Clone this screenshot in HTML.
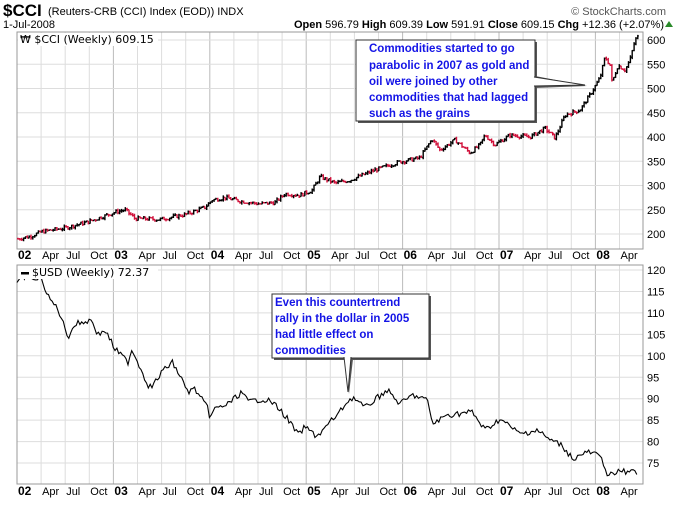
<!DOCTYPE html>
<html><head><meta charset="utf-8"><style>
body{margin:0;background:#fff;}
svg text{font-family:"Liberation Sans",sans-serif;}
</style></head><body>
<svg id="s" width="680" height="500" xmlns="http://www.w3.org/2000/svg">
<rect width="680" height="500" fill="#fff"/>
<g id="grid"></g>
<rect x="17" y="32" width="626" height="217" fill="none" stroke="#999" stroke-width="1"/>
<rect x="17" y="265" width="626" height="219" fill="none" stroke="#999" stroke-width="1"/>
<g id="cci"></g>
<path id="usd" fill="none" stroke="#000" stroke-width="1.1"/>
<g id="labels" font-size="11" fill="#000"></g>
<text x="3" y="16" font-size="17" font-weight="bold" style="font-family:'Liberation Sans Narrow','Liberation Sans',sans-serif">$CCI</text>
<text x="48" y="15" font-size="11">(Reuters-CRB (CCI) Index (EOD))  INDX</text>
<text x="3" y="28" font-size="11">1-Jul-2008</text>
<text x="666" y="15" font-size="11" fill="#555" text-anchor="end">© StockCharts.com</text>
<text x="664" y="28" font-size="11" text-anchor="end"><tspan font-weight="bold">Open</tspan> 596.79 <tspan font-weight="bold">High</tspan> 609.39 <tspan font-weight="bold">Low</tspan> 591.91 <tspan font-weight="bold">Close</tspan> 609.15 <tspan font-weight="bold">Chg</tspan> +12.36 (+2.07%)</text>
<path d="M665 27 L669 21 L673 27Z" fill="#2a8a2a"/>
<rect x="18" y="33" width="140" height="13" fill="#fff"/>
<text x="20" y="43" font-size="11" style="font-family:'DejaVu Sans',sans-serif" font-size="11">₩ $CCI (Weekly) 609.15</text>
<rect x="18" y="266" width="140" height="13" fill="#fff"/>
<rect x="21" y="272" width="8" height="2.5" fill="#000"/>
<text x="32" y="276" style="font-family:'DejaVu Sans',sans-serif" font-size="11">$USD (Weekly) 72.37</text>
<!-- callout 1 -->
<path d="M535 76 L587 86 L535 88Z" fill="#555"/>
<rect x="358" y="42" width="179" height="81" fill="#555"/>
<rect x="356" y="40" width="179" height="81" fill="#fff" stroke="#333"/>
<path d="M534 77 L585 85 L534 86" fill="#fff" stroke="#333"/>
<g font-size="11.5" font-weight="bold" fill="#1414e6">
<text x="369" y="52">Commodities started to go</text>
<text x="369" y="69">parabolic in 2007 as gold and</text>
<text x="369" y="85">oil were joined by other</text>
<text x="369" y="101">commodities that had lagged</text>
<text x="369" y="117">such as the grains</text>
</g>
<!-- callout 2 -->
<rect x="274" y="296" width="157" height="64" fill="#555"/>
<path d="M345 359 L349 394 L353 359Z" fill="#555"/>
<rect x="272" y="294" width="157" height="64" fill="#fff" stroke="#333"/>
<path d="M344 357 L348 392 L351 357" fill="#fff" stroke="#333"/>
<g font-size="11.5" font-weight="bold" fill="#1414e6">
<text x="275" y="306">Even this countertrend</text>
<text x="275" y="322">rally in the dollar in 2005</text>
<text x="275" y="338">had little effect on</text>
<text x="275" y="354">commodities</text>
</g>
</svg>
<script>
var NS="http://www.w3.org/2000/svg";
function el(p,t,a,txt){var e=document.createElementNS(NS,t);for(var k in a)e.setAttribute(k,a[k]);if(txt!==undefined)e.textContent=txt;p.appendChild(e);return e;}
var g=document.getElementById('grid'),L=document.getElementById('labels');
var xl=["02","Apr","Jul","Oct","03","Apr","Jul","Oct","04","Apr","Jul","Oct","05","Apr","Jul","Oct","06","Apr","Jul","Oct","07","Apr","Jul","Oct","08","Apr","Jul"];
for(var i=0;i<27;i++){var x=17+i*24.1;var yr=i%4==0;
 if(i>0&&x<643){el(g,'line',{x1:x,y1:32,x2:x,y2:249,stroke:yr?'#bbb':'#ddd'});el(g,'line',{x1:x,y1:265,x2:x,y2:484,stroke:yr?'#bbb':'#ddd'});}
 if(i<26){var a={x:x+1,y:259,'font-size':yr?12:11};if(yr)a['font-weight']='bold';el(L,'text',a,xl[i]);a.y=495;el(L,'text',a,xl[i]);}}
function yc(v){return 40+(600-v)*0.485;}
function yu(v){return 270+(120-v)*4.29;}
for(var v=200;v<=600;v+=50){el(g,'line',{x1:17,y1:yc(v),x2:643,y2:yc(v),stroke:'#ddd'});el(L,'text',{x:647,y:yc(v)+4},v);}
for(var v=75;v<=120;v+=5){el(g,'line',{x1:17,y1:yu(v),x2:643,y2:yu(v),stroke:'#ddd'});el(L,'text',{x:647,y:yu(v)+4},v);}
var seed=7;function rnd(){seed=(seed*9301+49297)%233280;return seed/233280;}
function interp(k,x){for(var i=0;i<k.length-1;i++){if(x<=k[i+1][0]){var t=(x-k[i][0])/(k[i+1][0]-k[i][0]);return k[i][1]+t*(k[i+1][1]-k[i][1]);}}return k[k.length-1][1];}
var ck=[[18,190],[30,195],[42,205],[64,212],[88,225],[115,245],[125,250],[135,232],[160,230],[185,240],[205,255],[212,270],[225,275],[240,268],[260,262],[275,265],[285,283],[300,280],[312,290],[320,318],[335,305],[350,311],[375,332],[400,349],[420,357],[432,396],[440,373],[455,394],[470,367],[480,384],[485,404],[495,384],[510,404],[530,400],[545,418],[555,398],[565,445],[580,456],[590,487],[600,522],[605,565],[610,548],[612,512],[618,548],[625,538],[630,559],[635,600],[638,607]];
var C=document.getElementById('cci'),prev=190;
for(var x=18;x<=638;x+=1.85){var c=interp(ck,x)+(rnd()-0.5)*8;var o=prev;var hi=Math.max(o,c)+rnd()*4,lo=Math.min(o,c)-rnd()*4;
 var col=c>=o?'#000':'#d0103a';
 el(C,'path',{d:'M'+x.toFixed(1)+' '+yc(hi).toFixed(1)+'V'+yc(lo).toFixed(1)+'M'+(x-1).toFixed(1)+' '+yc(o).toFixed(1)+'h1M'+x.toFixed(1)+' '+yc(c).toFixed(1)+'h1',stroke:col,'stroke-width':1.4,fill:'none'});prev=c;}
var uk=[[17,285],[22,277],[32,277],[35,280],[42,279],[48,297],[58,309],[68,337],[75,324],[92,320],[98,335],[105,330],[115,349],[128,362],[132,349],[148,385],[152,387],[162,372],[172,362],[178,372],[188,392],[195,389],[208,409],[210,417],[215,409],[228,404],[242,392],[248,402],[262,399],[272,402],[282,412],[292,425],[298,435],[305,427],[315,435],[320,434],[330,422],[340,412],[345,404],[353,397],[365,408],[372,402],[387,390],[400,404],[413,395],[427,400],[433,424],[447,415],[472,412],[485,430],[500,419],[520,434],[537,430],[550,440],[560,444],[565,449],[573,459],[587,452],[598,455],[603,462],[608,475],[613,475],[622,470],[627,474],[633,467],[635,473],[637,474]];
var d='';for(var x=17;x<=637;x+=1.85){var y=interp(uk,x)+(rnd()-0.5)*6;d+=(d?'L':'M')+x.toFixed(1)+' '+y.toFixed(1);}
document.getElementById('usd').setAttribute('d',d);
</script>
</body></html>
